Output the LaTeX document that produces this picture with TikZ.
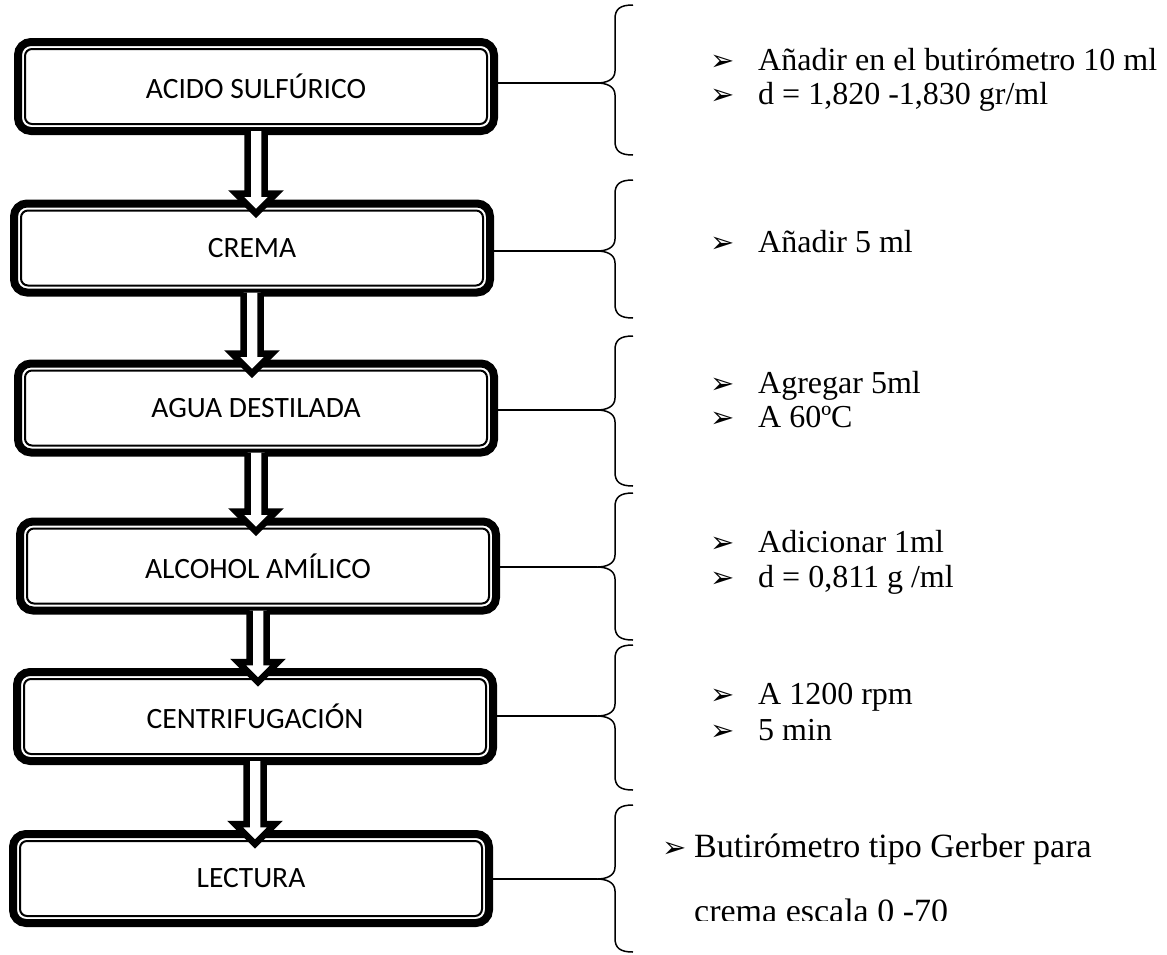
\documentclass[tikz,border=0pt]{standalone}
\usepackage{fontspec}
\setmainfont{Liberation Serif}
\newfontfamily\boxfont{Carlito}
\newfontfamily\symfont{DejaVu Sans}
\usetikzlibrary{calc}
\begin{document}
\begin{tikzpicture}[x=1pt,y=1pt,
  box/.style={draw, line width=8pt, rounded corners=13pt, outer sep=0pt, inner sep=0pt,
    minimum width=476pt, minimum height=89pt, fill=white,
    font=\boxfont\fontsize{29.5}{34}\selectfont},
  innerline/.style={line width=2pt, rounded corners=7pt},
  conn/.style={line width=1.5pt},
  brc/.style={line width=1.5pt},
  blk/.style={draw, fill=white, line width=6.5pt, line join=miter, miter limit=10},
  item/.style={anchor=base west, inner sep=0pt, font=\fontsize{32}{38}\selectfont},
  bigitem/.style={anchor=base west, inner sep=0pt, font=\fontsize{34}{40}\selectfont},
  bul/.style={anchor=base west, inner sep=0pt, font=\symfont\fontsize{29}{32}\selectfont}
]
\useasboundingbox (0,0) rectangle (1167,-954);

% boxes
\node[box] (b1) at (256,-86.5) {ACIDO SULFÚRICO};
\node[box] (b2) at (252,-248) {CREMA};
\node[box] (b3) at (256,-408) {AGUA DESTILADA};
\node[box] (b4) at (258,-566) {ALCOHOL AMÍLICO};
\node[box] (b5) at (255,-716.5) {CENTRIFUGACIÓN};
\node[box] (b6) at (251,-878.5) {LECTURA};
\foreach \b in {b1,b2,b3,b4,b5,b6}
  \draw[innerline] ($(\b.north west)+(7,-7)$) rectangle ($(\b.south east)+(-7,7)$);

% block arrows
\foreach \a/\c in {b1/b2,b2/b3,b3/b4,b4/b5,b5/b6}
  \draw[blk] let \p1=(\a.south), \p2=(\c.north) in
    (\x1-8.5pt,\y1) -- (\x1-8.5pt,\y2+10pt) -- (\x1-20pt,\y2+10pt) -- (\x1,\y2-10pt)
    -- (\x1+20pt,\y2+10pt) -- (\x1+8.5pt,\y2+10pt) -- (\x1+8.5pt,\y1);

% brace tips
\coordinate (t1) at (597,-83);
\coordinate (t2) at (597,-251);
\coordinate (t3) at (597,-410);
\coordinate (t4) at (597,-567);
\coordinate (t5) at (597,-716);
\coordinate (t6) at (597,-879);

% connectors
\draw[conn] (b1.east |- t1) -- (t1);
\draw[conn] (b2.east |- t2) -- (t2);
\draw[conn] (b3.east |- t3) -- (t3);
\draw[conn] (b4.east |- t4) -- (t4);
\draw[conn] (b5.east |- t5) -- (t5);
\draw[conn] (b6.east |- t6) -- (t6);

% braces: top T, tip M, bottom B
\foreach \T/\M/\B/\t in {5/83/155/t1, 180/251/318/t2, 336/410/486/t3, 493/567/640/t4, 645/716/790/t5, 805/879/952/t6}
  \draw[brc] (633,-\T) .. controls (620,-\T) and (615,-\T-4) .. (615,-\T-14)
    -- (615,-\M+12) .. controls (615,-\M+3) and (606,-\M) .. (\t)
    .. controls (606,-\M) and (615,-\M-3) .. (615,-\M-12)
    -- (615,-\B+14) .. controls (615,-\B+4) and (620,-\B) .. (633,-\B);

% texts
\node[bul] (p1a) at (710,-70) {➢};
\node[item] (x1a) at (758,-70) {Añadir en el butirómetro 10 ml};
\node[bul] (p1b) at (710,-104) {➢};
\node[item] (x1b) at (758,-104) {d = 1,820 -1,830 gr/ml};

\node[bul] (p2a) at (710,-252) {➢};
\node[item] (x2a) at (758,-252) {Añadir 5 ml};

\node[bul] (p3a) at (710,-393) {➢};
\node[item] (x3a) at (758,-393) {Agregar 5ml};
\node[bul] (p3b) at (710,-427) {➢};
\node[item] (x3b) at (758,-427) {A 60ºC};

\node[bul] (p4a) at (710,-552) {➢};
\node[item] (x4a) at (758,-552) {Adicionar 1ml};
\node[bul] (p4b) at (710,-587) {➢};
\node[item] (x4b) at (758,-587) {d = 0,811 g /ml};

\node[bul] (p5a) at (710,-704) {➢};
\node[item] (x5a) at (758,-704) {A 1200 rpm};
\node[bul] (p5b) at (710,-740) {➢};
\node[item] (x5b) at (758,-740) {5 min};

\node[bul] (p6a) at (662,-857) {➢};
\node[bigitem] (x6a) at (694,-857) {Butirómetro tipo Gerber para};
\begin{scope}
  \clip (680,-880) rectangle (1167,-920);
  \node[bigitem] (x6b) at (694,-922) {crema escala 0 -70};
\end{scope}
\end{tikzpicture}
\end{document}
